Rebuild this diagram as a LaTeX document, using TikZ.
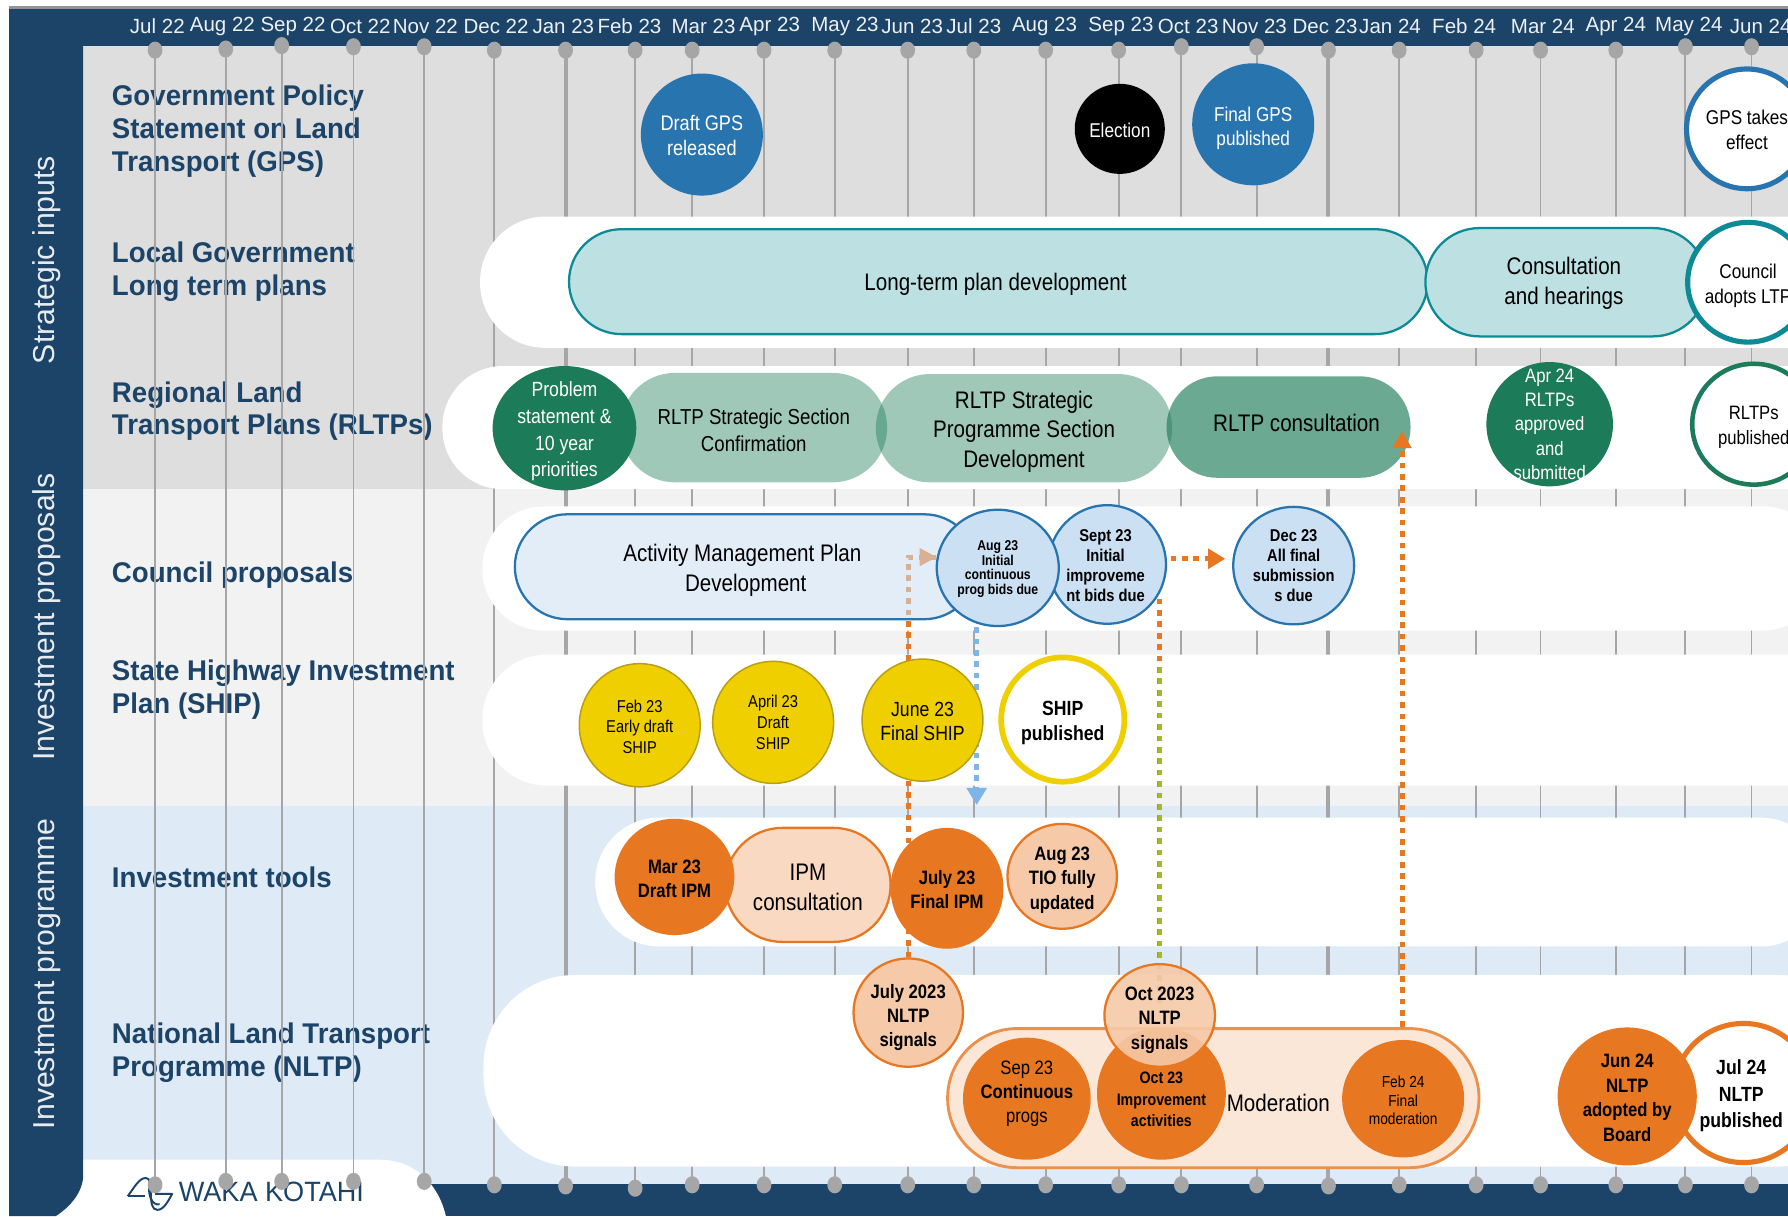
\documentclass[tikz,border=0pt]{standalone}
\usepackage{fontspec}
\usetikzlibrary{shapes.geometric,shapes.misc,arrows.meta}
\setmainfont[FakeStretch=.86]{Liberation Sans}
\newfontfamily\sidefont{Liberation Sans}
\newfontfamily\rowfont[FakeStretch=.97]{Liberation Sans}
\newcommand{\fsz}[2]{\fontsize{#1}{#2}\selectfont}
\newcommand{\lowr}[1]{\rule{0pt}{#1pt}}
\newcommand{\upr}[1]{\rule[-#1pt]{0pt}{1pt}}
\definecolor{navy}{HTML}{1B4468}
\definecolor{gpsblue}{HTML}{2874AE}
\definecolor{tealline}{HTML}{0E8A96}
\definecolor{tealfill}{HTML}{BDE0E2}
\definecolor{rltpgreen}{HTML}{1C7C5A}
\definecolor{bidfill}{HTML}{CCE0F3}
\definecolor{shipyellow}{HTML}{F0CF00}
\definecolor{shipedge}{HTML}{B89F10}
\definecolor{ipmorange}{HTML}{E87722}
\definecolor{peach}{HTML}{F6C9A8}
\definecolor{tickgrey}{HTML}{A6A6A6}
\definecolor{bandblue}{HTML}{DEEAF6}
\definecolor{linkblue}{HTML}{7FB5E6}
\definecolor{linkgreen}{HTML}{A4B92A}
\pgfdeclarelayer{bands}
\pgfdeclarelayer{links}
\pgfsetlayers{bands,links,main}
\tikzset{
  ovalnode/.style 2 args={ellipse,minimum width=#1pt,minimum height=#2pt,inner sep=-20pt,align=center},
  pillnode/.style 2 args={rounded rectangle,minimum width=#1pt,minimum height=#2pt,inner sep=0pt,align=center},
  rowlabel/.style={anchor=west,align=left,inner sep=0pt,text=navy,font=\rowfont\bfseries\fsz{25}{28.7}},
  sidelabel/.style={rotate=90,inner sep=0pt,text=white!90!navy,font=\sidefont\fsz{26.5}{30}},
  orangelink/.style={draw=ipmorange,line width=4.4pt,dash pattern=on 5pt off 5pt},
}
\begin{document}
\begin{tikzpicture}[x=1pt,y=-1pt,>=stealth]
\useasboundingbox (0,0) rectangle (1568,1066.4);
\begin{pgfonlayer}{bands}
% bands of the rows
\fill[gray!85!white] (8,5.5) rectangle (1568,8);
\fill[black!13] (73,40) rectangle (1568,429);
\fill[black!5] (73,429) rectangle (1568,707);
\fill[bandblue] (73,707) rectangle (1568,1038);
\fill[navy] (73,8) rectangle (1568,40);
\fill[navy] (370,1038) rectangle (1568,1066.4);
\fill[white] (50,1017) -- (333,1017) .. controls (365,1017) and (385,1040) .. (391,1066.4) -- (40,1066.4) -- cycle;
\fill[navy] (8,8) -- (73,8) -- (73,1030) .. controls (73,1045) and (62,1058) .. (49,1066.4) -- (8,1066.4) -- cycle;
% row names, the month lines run over them
\node[sidelabel] (strategic) at (41,228) {Strategic inputs};
\node[sidelabel] (proposals) at (41,541) {Investment proposals};
\node[sidelabel] (programme) at (41,854) {Investment programme};
\node[rowlabel] (gpsrow) at (98,115) {Government Policy\\Statement on Land\\Transport (GPS)};
\node[rowlabel] (ltprow) at (98,238) {Local Government\\Long term plans};
\node[rowlabel] (rltprow) at (98,360.5) {Regional Land\\Transport Plans (RLTPs)};
\node[rowlabel] (councilrow) at (98,504) {Council proposals};
\node[rowlabel] (shiprow) at (98,605) {State Highway Investment\\Plan (SHIP)};
\node[rowlabel] (toolsrow) at (98,769) {Investment tools};
\node[rowlabel] (nltprow) at (98,923) {National Land Transport\\Programme (NLTP)};
% logo
\draw[navy,line width=1.7pt,line join=round] (112,1049) .. controls (118,1041) and (122,1033) .. (128,1033) .. controls (136,1033) and (128,1061) .. (138,1061) .. controls (144,1061) and (148,1052) .. (151,1047) -- (136,1047);
\draw[navy,line width=1.7pt] (112,1049) -- (127,1049);
\draw[navy,line width=1.7pt] (132,1035) .. controls (128,1048) and (134,1058) .. (140,1056);
\node[inner sep=0pt,text=navy,font=\rowfont\fsz{24.5}{26}] (logotext) at (238,1045) {WAKA KOTAHI};
% month lines
\foreach \x/\t/\b/\w in {136/44/1039/1.6,198/43/1036/1.6,247/40/1036/1.6,310/41/1036/1.6,372/41/1036/1.6,
  433.5/44/1039/1.6,496/44/1040/3.5,557/44/1042/1.6,607/44/1039/1.6,670/44/1039/1.6,732/44/1039/1.6,
  796/44/1039/1.6,854/44/1039/1.6,917/44/1039/1.6,981/44/1039/1.6,1036/41/1039/1.6,1102/41/1039/1.6,
  1165/44/1040/3.5,1227/44/1039/1.6,1294.5/44/1039/1.6,1351/44/1039/1.6,1417/44/1039/1.6,1478/41/1039/1.6,1536/41/1039/1.6}{
\draw[tickgrey,line width=\w pt] (\x,\t)--(\x,\b);
\fill[tickgrey] (\x,\t) ellipse (6.5 and 7.5);
\fill[tickgrey] (\x,\b) ellipse (6.5 and 7.5);
}
\foreach \m/\x in {Jul 22/138,Aug 22/195,Sep 22/257,Oct 22/316,Nov 22/373,Dec 22/435,Jan 23/494,Feb 23/552,%
  Mar 23/617,Apr 23/675,May 23/741,Jun 23/800,Jul 23/854,Aug 23/916,Sep 23/983,Oct 23/1042,Nov 23/1100,%
  Dec 23/1162,Jan 24/1219,Feb 24/1284,Mar 24/1353,Apr 24/1417,May 24/1481,Jun 24/1544}{
\node[text=white!92!navy,inner sep=0pt,font=\sidefont\fsz{18}{20}] (month\x) at (\x,23) {\m};
}
% white rows
\fill[white,rounded corners=57pt] (421,190) rectangle (1640,305);
\fill[white,rounded corners=53pt] (388,321) rectangle (1640,429);
\fill[white,rounded corners=54pt] (423,444) rectangle (1600,553);
\fill[white,rounded corners=57pt] (423,574) rectangle (1640,689);
\fill[white,rounded corners=56pt] (522,717) rectangle (1600,830);
\fill[white,rounded corners=80pt] (424,855) rectangle (1640,1023);
\end{pgfonlayer}

% strategic inputs
\node[ovalnode={107}{107},fill=gpsblue,text=white,font=\fsz{18.5}{22}] (draftgps) at (615.5,118) {\lowr{15}Draft GPS\\released};
\node[ovalnode={79}{79},fill=black,text=white,font=\fsz{17.5}{22}] (election) at (982,113) {\lowr{15}Election};
\node[ovalnode={107}{107},fill=gpsblue,text=white,font=\fsz{17.5}{21}] (finalgps) at (1099,109) {\lowr{19}Final GPS\\published};
\node[ovalnode={106}{105},draw=gpsblue,line width=4.5pt,fill=white,font=\fsz{17.5}{22}] (gpseffect) at (1532,113) {\lowr{15}GPS takes\\effect};
\node[pillnode={753}{92},draw=tealline,line width=2pt,fill=tealfill,font=\fsz{21}{26}] (ltpdev) at (875.5,247) {\lowr{20}\hspace*{-5pt}Long-term plan development};
\node[pillnode={247}{95},draw=tealline,line width=2pt,fill=tealfill,font=\fsz{21}{26}] (ltpcons) at (1373.5,247.5) {\lowr{17.5}\hspace*{-4pt}Consultation\\\hspace*{-4pt}and hearings};
\node[ovalnode={106}{105},draw=tealline,line width=4.5pt,fill=white,font=\fsz{17.5}{22}] (ltpadopt) at (1533,247.5) {\lowr{18.5}Council\\adopts LTP};
\node[pillnode={234}{96},fill=rltpgreen,fill opacity=.42,text opacity=1,font=\fsz{19}{24}] (rltpconf) at (661,375) {\lowr{18}RLTP Strategic Section\\Confirmation};
\node[pillnode={260}{95},fill=rltpgreen,fill opacity=.42,text opacity=1,font=\fsz{21}{26}] (rltpprog) at (898,375.5) {\lowr{21}RLTP Strategic\\Programme Section\\Development};
\node[pillnode={214}{89},fill=rltpgreen,fill opacity=.65,text opacity=1,font=\fsz{21}{26}] (rltpcons) at (1130,374.5) {\hspace*{14pt}RLTP consultation\upr{8}};
\node[ovalnode={126}{109},fill=rltpgreen,text=white,font=\fsz{18}{23.4}] (problem) at (495,375.5) {\lowr{19}Problem\\statement \&\\10 year\\priorities};
\node[ovalnode={111}{109},fill=rltpgreen,text=white,font=\fsz{17}{21.2}] (rltpapr) at (1359,372) {Apr 24\\RLTPs\\approved\\and\\submitted};
\node[ovalnode={108}{106},draw=rltpgreen,line width=4pt,fill=white,font=\fsz{17}{22}] (rltppub) at (1538,372) {\lowr{18}RLTPs\\published};

% investment proposals
\node[pillnode={405}{92},draw=gpsblue,line width=2pt,fill=bidfill,fill opacity=.55,text opacity=1,font=\fsz{21}{26}] (amp) at (654,497) {\lowr{21}\hspace*{-6pt}Activity Management Plan\\Development};
\node[ovalnode={103}{104},draw=gpsblue,line width=2pt,fill=bidfill,font=\bfseries\fsz{15}{17.5}] (septbid) at (971,495) {\lowr{13}\hspace*{-3pt}Sept 23\\\hspace*{-3pt}Initial\\\hspace*{-3pt}improveme\\\hspace*{-3pt}nt bids due};
\node[ovalnode={107}{102},draw=gpsblue,line width=2pt,fill=bidfill,font=\bfseries\fsz{12.5}{12.8}] (augbid) at (875,498) {\lowr{11}Aug 23\\Initial\\continuous\\prog bids due};
\node[ovalnode={106}{103},draw=gpsblue,line width=2pt,fill=bidfill,font=\bfseries\fsz{15}{17.5}] (decbid) at (1134.5,496) {Dec 23\\All final\\submission\\s due};
\node[ovalnode={106}{108},draw=shipedge,line width=1.3pt,fill=shipyellow,font=\fsz{15}{18}] (shipfeb) at (561,636) {\lowr{13}Feb 23\\Early draft\\SHIP};
\node[ovalnode={106}{107},draw=shipedge,line width=1.3pt,fill=shipyellow,font=\fsz{15}{18}] (shipapr) at (678,633.5) {April 23\\Draft\\SHIP};
\node[ovalnode={106}{107},draw=shipedge,line width=1.3pt,fill=shipyellow,font=\fsz{18}{21}] (shipjune) at (809,631.5) {\lowr{15}June 23\\Final SHIP};
\node[ovalnode={108}{109},draw=shipyellow,line width=5pt,fill=white,font=\bfseries\fsz{18}{21.5}] (shippub) at (932,631) {\lowr{19}SHIP\\published};

% investment programme
\node[pillnode={145}{100},draw=ipmorange,line width=2pt,fill=peach!70!white,font=\fsz{21}{26}] (ipmcons) at (708.5,776) {\lowr{19}IPM\\consultation};
\node[ovalnode={105}{102},fill=ipmorange,font=\bfseries\fsz{17}{21}] (ipmdraft) at (591.5,769) {\lowr{14.5}Mar 23\\Draft IPM};
\node[ovalnode={99}{106},fill=ipmorange,font=\bfseries\fsz{17}{21}] (ipmfinal) at (830.5,779) {\lowr{15}July 23\\Final IPM};
\node[ovalnode={96}{92},draw=ipmorange,line width=2pt,fill=peach,font=\bfseries\fsz{17}{21.5}] (tio) at (931.5,768.5) {\lowr{18}Aug 23\\TIO fully\\updated};
\node[pillnode={466}{122},draw=ipmorange!70!peach,line width=2.5pt,fill=peach!45!white,font=\fsz{21}{26}] (modpill) at (1064,963) {\lowr{23}\hspace*{114pt}Moderation};
\node[ovalnode={112}{107},fill=ipmorange,font=\fsz{17}{21}] (contprogs) at (900.5,963.5) {Sep 23\\\textbf{Continuous}\\progs\upr{12.6}};
\node[ovalnode={113}{116},fill=ipmorange,font=\bfseries\fsz{14.5}{18.8}] (improve) at (1018.5,959) {\\[2pt]Oct 23\\Improvement\\activities};
\node[ovalnode={107}{103},fill=ipmorange,font=\fsz{14}{16}] (finalmod) at (1230.5,963.5) {\lowr{13}Feb 24\\Final\\moderation};
\node[ovalnode={96}{95},draw=ipmorange,line width=2pt,fill=peach,font=\bfseries\fsz{17}{21}] (julysig) at (796.5,888) {\lowr{21}July 2023\\NLTP\\signals};
\node[ovalnode={97}{90},draw=ipmorange,line width=2pt,fill=peach,fill opacity=.9,text opacity=1,font=\bfseries\fsz{17}{21.5}] (octsig) at (1017,890.5) {\lowr{20}Oct 2023\\NLTP\\signals};
\node[ovalnode={123}{122},draw=ipmorange,line width=4.5pt,fill=white,font=\bfseries\fsz{18}{23.5}] (nltppub) at (1529,958.5) {\lowr{18}\hspace*{-4pt}Jul 24\\\hspace*{-4pt}NLTP\\\hspace*{-4pt}published};
\node[ovalnode={122}{121},fill=ipmorange,font=\bfseries\fsz{17}{21.5}] (nltpboard) at (1427,961.5) {\lowr{14.5}Jun 24\\NLTP\\adopted by\\Board};

% connectors under the bubbles
\coordinate (shiptip) at (856.5,706);
\coordinate (greentop) at (1017,580);
\coordinate (octend) at (1017,880);
\begin{pgfonlayer}{links}
\draw[orangelink] (julysig.north) |- (augbid.170);
\fill[ipmorange] (augbid.170) -- ++(-15,-8) -- ++(0,16) -- cycle;
\draw[draw=linkblue,line width=4.4pt,dash pattern=on 5pt off 5pt,-{Triangle[length=15pt,width=17pt,fill=linkblue]}] (shiptip |- augbid.south) -- (shiptip);
\draw[orangelink] (octend) -- (octend |- septbid.-35);
\draw[draw=linkgreen,line width=3.4pt,dash pattern=on 5pt off 5pt] (octend) -- (greentop);
\end{pgfonlayer}
% connectors over the bubbles
\coordinate (rltptip) at (1229.5,378);
\draw[orangelink,-{Triangle[length=15pt,width=16pt,fill=ipmorange]}] (modpill.north -| rltptip) -- (rltptip);
\draw[orangelink,shorten >=6pt,-{Triangle[length=15pt,width=17pt,fill=ipmorange]}] (septbid.east |- 0,490) ++(3,0) -- (decbid.west |- 0,490);
\end{tikzpicture}
\end{document}
